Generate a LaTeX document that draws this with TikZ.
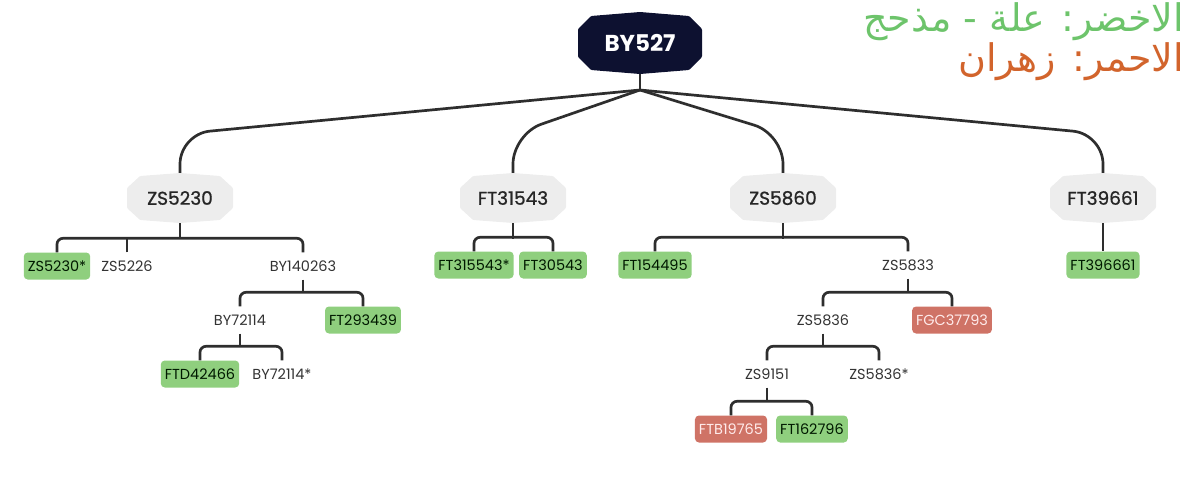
\documentclass[tikz,border=0pt]{standalone}
\usepackage{fontspec}
\setmainfont{Poppins}
\newfontfamily\mediumfont{Poppins}[FakeBold=0.9]
\newfontfamily\arabicfont[Script=Arabic]{DejaVu Sans}
\TeXXeTstate=1
\usepackage{tikz}
\usepackage{xcolor}
\definecolor{rootblue}{HTML}{0D1130}
\definecolor{hexgrey}{HTML}{EDEDED}
\definecolor{leafgreen}{HTML}{8FCF7E}
\definecolor{leafred}{HTML}{CF7366}
\definecolor{legendgreen}{HTML}{6DC46B}
\definecolor{legendorange}{HTML}{D2642C}
\definecolor{linegrey}{HTML}{2E2E2E}

\tikzset{
  rootbox/.style={text=white, font=\bfseries\fontsize{23}{26}\selectfont,
    minimum width=124pt, minimum height=62pt, inner sep=0pt},
  hexbox/.style={text=black!85, font=\mediumfont\fontsize{18.5}{22}\selectfont,
    minimum width=106pt, minimum height=50pt, inner sep=0pt},
  snp/.style={font=\fontsize{14.5}{16}\selectfont, text=black!80, minimum height=27pt, inner xsep=4pt, inner ysep=0pt},
  good/.style={snp, fill=leafgreen, text=black!75!green!40!black, rounded corners=4pt},
  bad/.style={snp, fill=leafred, text=red!8, rounded corners=4pt},
  branch/.style={draw=linegrey, line width=2.7pt, rounded corners=6pt},
}

\begin{document}
\begin{tikzpicture}[x=1pt,y=-1pt]
    \useasboundingbox (0,0) rectangle (1200,493);

    % legend
    \node[anchor=north east, inner sep=0pt, text=legendgreen, font=\fontsize{38}{42}\selectfont] (legendgood) at (1184,2) {\arabicfont\beginR الاخضر: علة - مذحج\endR};
    \node[anchor=north east, inner sep=0pt, text=legendorange, font=\fontsize{38}{42}\selectfont] (legendbad) at (1184,42) {\arabicfont\beginR الاحمر: زهران\endR};

    % root and main branches
    \fill[rootblue, rounded corners=1pt] (578,29) -- (591,16) -- (640,12) -- (689,16) -- (702,29)
        -- (702,57) -- (689,70) -- (640,74) -- (591,70) -- (578,57) -- cycle;
    \node[rootbox] (by527) at (640,43) {BY527};
    \coordinate (hub) at (640,90);
    \draw[branch] (by527.south) -- (hub);

    \foreach \n/\x/\t in {zs5230/180/ZS5230,ft31543/513/FT31543,zs5860/783/ZS5860,ft39661/1103/FT39661} {
        \fill[hexgrey, rounded corners=1pt] (\x-53,188) -- (\x-40,176) -- (\x,173) -- (\x+40,176) -- (\x+53,188)
            -- (\x+53,208) -- (\x+40,220) -- (\x,223) -- (\x-40,220) -- (\x-53,208) -- cycle;
        \node[hexbox] (\n) at (\x,198) {\t};
        \draw[branch, rounded corners=30pt] (hub) -- (\n.north |- 0,134) -- (\n.north);
    }

    % leaves
    \foreach \n/\x/\y/\t in {zs5226/127/266/ZS5226,by140263/303/266/BY140263,by72114/240/320/BY72114,
        by72114s/282/374/BY72114*,zs5833/908/265/ZS5833,zs5836/823/320/ZS5836,zs9151/767/374/ZS9151,
        zs5836s/879/374/ZS5836*} {
        \node[snp] (\n) at (\x,\y) {\t};
    }
    \foreach \n/\x/\y/\t in {zs5230s/57/266/ZS5230*,ft293439/363/320/FT293439,ftd42466/200/374/FTD42466,
        ft315543/474/265/FT315543*,ft30543/553/265/FT30543,ft154495/655/265/FT154495,
        ft162796/812/429/FT162796,ft396661/1103/265/FT396661} {
        \node[good] (\n) at (\x,\y) {\t};
    }
    \node[bad] (fgc37793) at (952,320) {FGC37793};
    \node[bad] (ftb19765) at (731,429) {FTB19765};

    % ZS5230
    \draw[branch] (zs5230.south) -- ++(0,16);
    \draw[branch] (zs5230s.north) -- ++(0,-14) -| (by140263.north);
    \draw[branch] (zs5226.north) -- ++(0,-14);
    \draw[branch] (by140263.south) -- ++(0,13);
    \draw[branch] (by72114.north) -- ++(0,-14) -| (ft293439.north);
    \draw[branch] (by72114.south) -- ++(0,13);
    \draw[branch] (ftd42466.north) -- ++(0,-14) -| (by72114s.north);

    % FT31543
    \draw[branch] (ft31543.south) -- ++(0,16);
    \draw[branch] (ft315543.north) -- ++(0,-14) -| (ft30543.north);

    % ZS5860
    \draw[branch] (zs5860.south) -- ++(0,16);
    \draw[branch] (ft154495.north) -- ++(0,-14) -| (zs5833.north);
    \draw[branch] (zs5833.south) -- ++(0,13);
    \draw[branch] (zs5836.north) -- ++(0,-14) -| (fgc37793.north);
    \draw[branch] (zs5836.south) -- ++(0,13);
    \draw[branch] (zs9151.north) -- ++(0,-14) -| (zs5836s.north);
    \draw[branch] (zs9151.south) -- ++(0,13);
    \draw[branch] (ftb19765.north) -- ++(0,-14) -| (ft162796.north);

    % FT39661
    \draw[branch] (ft39661.south) -- (ft396661.north);
\end{tikzpicture}
\end{document}
